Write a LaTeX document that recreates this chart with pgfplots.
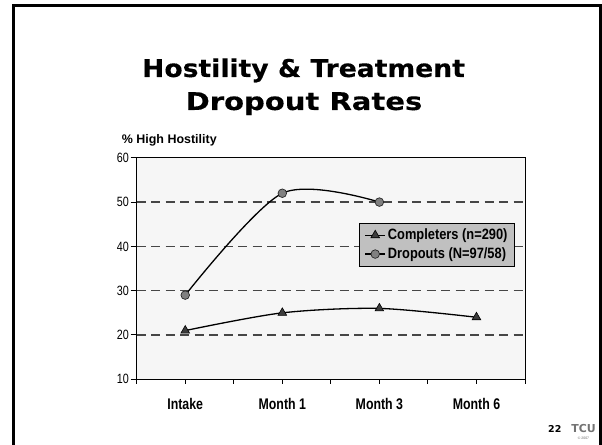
\documentclass[border=0pt]{standalone}
\usepackage{fontspec}
\usepackage{graphicx}
\usepackage{pgfplots}
\pgfplotsset{compat=1.18}
\setmainfont{Liberation Sans}
\newfontfamily\titlefont[FakeBold=0.2]{DejaVu Sans}
\newfontfamily\numfont{DejaVu Sans}
\newfontfamily\narrowfont[FakeStretch=0.80]{Liberation Sans}
\newfontfamily\legfont[FakeStretch=0.86]{Liberation Sans}
\definecolor{plotbg}{RGB}{246,246,246}
\definecolor{gridc}{RGB}{70,70,70}
\definecolor{legbg}{RGB}{192,192,192}
\definecolor{tri}{RGB}{60,60,60}
\definecolor{circ}{RGB}{128,128,128}
\begin{document}
\begin{tikzpicture}
\useasboundingbox (0,0) rectangle (602bp,445bp);
\clip (0,0) rectangle (602bp,445bp);
% slide frame
\draw[line width=3bp] (13.5bp,-10bp) -- (13.5bp,439.2bp) -- (600.5bp,439.2bp) -- (600.5bp,-10bp);
% title
\node[anchor=base, inner sep=0pt] at (303.5bp,368bp) {\titlefont\bfseries\fontsize{24.5}{24.5}\selectfont\scalebox{1.09}[1]{Hostility \& Treatment}};
\node[anchor=base, inner sep=0pt] at (304bp,335bp) {\titlefont\bfseries\fontsize{24.5}{24.5}\selectfont\scalebox{1.19}[1]{Dropout Rates}};
% y label
\node[anchor=base west, inner sep=0pt] at (121.7bp,301bp) {\bfseries\fontsize{12.5}{12.5}\selectfont \% High Hostility};
\begin{axis}[
  at={(136.7bp,65.7bp)}, anchor=south west,
  scale only axis, width=388.3bp, height=221.5bp,
  xmin=-0.5, xmax=3.5, ymin=10, ymax=60,
  axis background/.style={fill=plotbg},
  axis line style={line width=1bp, black},
  /pgf/number format/assume math mode=true,
  xtick={-0.5,0.5,1.5,2.5,3.5}, xticklabels={},
  extra x ticks={0,1,2,3},
  extra x tick labels={Intake,Month 1,Month 3,Month 6},
  extra x tick style={major tick length=0pt,
    xticklabel style={anchor=base, inner sep=0pt, yshift=-30.4bp,
      font=\narrowfont\bfseries\fontsize{15.5}{15.5}\selectfont}},
  ytick={10,20,30,40,50,60},
  tick align=outside, tick pos=left,
  xtick style={/pgfplots/major tick length=4.5bp, line width=1bp, black},
  ytick style={/pgfplots/major tick length=6bp, line width=1bp, black},
  yticklabel style={font=\narrowfont\fontsize{13.5}{13.5}\selectfont, inner sep=0pt, xshift=-3.5bp},
  ymajorgrids,
  major grid style={draw=gridc, dash pattern=on 9bp off 5.5bp, line width=1.2bp},
  legend style={at={(0.573,0.707)}, anchor=north west, fill=legbg, draw=black, line width=0.8bp,
    font=\legfont\bfseries\fontsize{15}{15}\selectfont, inner xsep=5bp, inner ysep=4bp,
    row sep=2.5bp},
  legend cell align=left,
  legend image code/.code={\draw[mark repeat=2,mark phase=2,#1] plot coordinates {(0bp,0bp) (10bp,0bp) (20bp,0bp)};},
]
\addplot[black, line width=1.3bp, smooth, tension=0.5, mark=triangle*, mark size=5bp,
  mark options={fill=tri, draw=black, line width=0.6bp}]
  coordinates {(0,21) (1,25) (2,26) (3,24)};
\addlegendentry{Completers (n=290)}
\addplot[black, line width=1.3bp, smooth, tension=0.5, mark=*, mark size=4.3bp,
  mark options={fill=circ, draw=black!85, line width=0.7bp}]
  coordinates {(0,29) (1,52) (2,50)};
\addlegendentry{Dropouts (N=97/58)}
\end{axis}
% page number and logo
\node[anchor=base west, inner sep=0pt] at (548bp,12.7bp) {\numfont\bfseries\fontsize{9.5}{9.5}\selectfont 22};
\node[anchor=center, inner sep=0pt, text=black!55] at (583.5bp,16.5bp) {\numfont\bfseries\fontsize{11}{11}\selectfont TCU};
\node[anchor=center, inner sep=0pt, text=black!60] at (583.5bp,6.5bp) {\fontsize{3.5}{3.5}\selectfont \textcopyright\ 2007};
\end{tikzpicture}
\end{document}
